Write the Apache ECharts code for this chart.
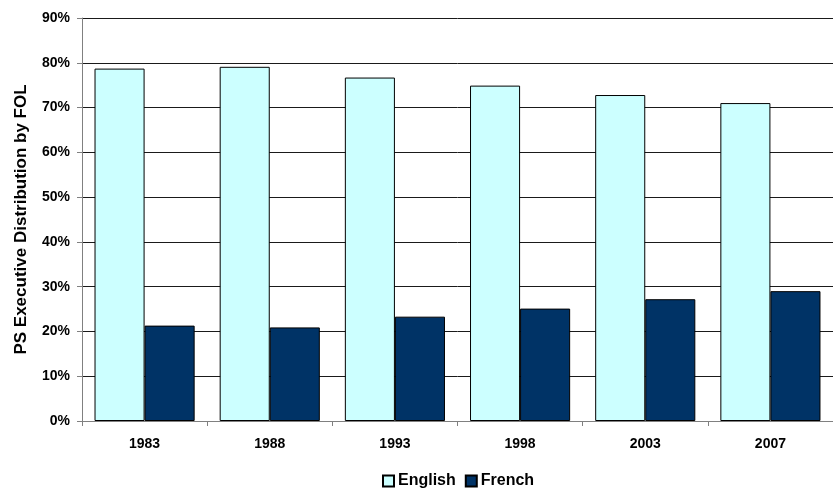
<!DOCTYPE html>
<html>
<head>
<meta charset="utf-8">
<script src="https://cdn.jsdelivr.net/npm/echarts@6/dist/echarts.min.js"></script>
<style>
  html, body { margin: 0; padding: 0; background: #ffffff; }
  #chart { width: 833px; height: 491px; }
</style>
</head>
<body>
<div id="chart"></div>
<script>
// Survey years on the category axis
const years = ['1983', '1988', '1993', '1998', '2003', '2007'];
// Share of public-service executives by first official language (%)
const english = [78.7, 79.1, 76.7, 74.9, 72.8, 71.0];
const french = [21.3, 20.9, 23.3, 25.1, 27.2, 29.0];
// Value-axis range in percent
const yMin = 0;
const yMax = 90;
const yStep = 10;

const FONT = '"Liberation Sans", Arial, sans-serif';

const chart = echarts.init(document.getElementById('chart'), null, { renderer: 'canvas' });

chart.setOption({
  animation: false,
  backgroundColor: '#ffffff',
  textStyle: { fontFamily: FONT },
  // plot area runs slightly past the right edge of the canvas
  grid: { left: 82, top: 18, width: 760, height: 403, containLabel: false },
  legend: {
    left: 377,
    top: 468,
    itemWidth: 11,
    itemHeight: 11,
    itemGap: 9,
    icon: 'rect',
    textStyle: { fontFamily: FONT, fontWeight: 'bold', fontSize: 16, color: '#000', padding: [0, 0, 0, -1] },
    data: ['English', 'French']
  },
  xAxis: {
    type: 'category',
    data: years,
    axisLine: { lineStyle: { color: '#808080', width: 1 } },
    axisTick: { show: true, length: 5, alignWithLabel: false, lineStyle: { color: '#808080' } },
    axisLabel: { fontFamily: FONT, fontWeight: 'bold', fontSize: 14, color: '#000', margin: 16 },
    splitLine: { show: false }
  },
  yAxis: {
    type: 'value',
    min: yMin,
    max: yMax,
    interval: yStep,
    name: 'PS Executive Distribution by FOL',
    nameLocation: 'middle',
    nameRotate: 90,
    nameGap: 52,
    nameTextStyle: { fontFamily: FONT, fontWeight: 'bold', fontSize: 17, color: '#000' },
    axisLine: { show: true, lineStyle: { color: '#808080', width: 1 } },
    axisTick: { show: true, length: 5, lineStyle: { color: '#808080' } },
    axisLabel: { fontFamily: FONT, fontWeight: 'bold', fontSize: 14, color: '#000', margin: 12, formatter: '{value}%' },
    splitLine: { show: true, lineStyle: { color: '#1a1a1a', width: 1 } }
  },
  series: [
    {
      name: 'English',
      type: 'bar',
      data: english,
      barGap: '0%',
      barCategoryGap: '20%',
      itemStyle: { color: '#CCFFFF', borderColor: '#000000', borderWidth: 1 }
    },
    {
      name: 'French',
      type: 'bar',
      data: french,
      barGap: '0%',
      barCategoryGap: '20%',
      itemStyle: { color: '#003366', borderColor: '#000000', borderWidth: 1 }
    }
  ]
});
</script>
</body>
</html>
